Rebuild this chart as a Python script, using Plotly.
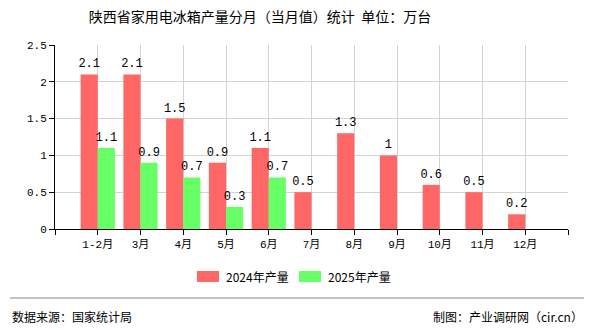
import plotly.graph_objects as go

categories = ["1-2月", "3月", "4月", "5月", "6月", "7月", "8月", "9月", "10月", "11月", "12月"]
values_2024 = [2.1, 2.1, 1.5, 0.9, 1.1, 0.5, 1.3, 1, 0.6, 0.5, 0.2]
values_2025 = [1.1, 0.9, 0.7, 0.3, 0.7, None, None, None, None, None, None]
series_names = ["2024年产量", "2025年产量"]
series_colors = ["#ff6666", "#66ff66"]
y_ticks = [0, 0.5, 1, 1.5, 2, 2.5]
y_ticklabels = ["0", "0.5", "1", "1.5", "2", "2.5"]

num_font = "Liberation Mono, Noto Sans CJK SC, monospace"
cjk_font = "Noto Sans CJK SC, sans-serif"

x_idx = list(range(len(categories)))

def fmt(v):
    if v is None:
        return ""
    return f"{v:g}"

fig = go.Figure()
for name, vals, col in zip(series_names, [values_2024, values_2025], series_colors):
    fig.add_trace(go.Bar(
        x=x_idx, y=vals, name=name,
        marker=dict(color=col, line=dict(width=0)),
        text=[fmt(v) for v in vals], textposition="outside",
        constraintext="none",
        textfont=dict(family=num_font, size=12, color="#000000"),
        cliponaxis=False, showlegend=False,
    ))

# plot area in px: x 55..568, y 45..229
PW, PH = 513, 184
def px_x(x):
    return (x - 55) / PW
def px_y(y):
    return (229 - y) / PH

fig.update_layout(
    width=590, height=330,
    margin=dict(l=55, r=22, t=45, b=101),
    paper_bgcolor="white", plot_bgcolor="white",
    barmode="group", bargap=0.2, bargroupgap=0,
    title=dict(text="陕西省家用电冰箱产量分月（当月值）统计  单位：万台",
               x=260/590, xanchor="center", y=1-17/330, yanchor="middle",
               font=dict(family=cjk_font, size=14, color="#000000")),
    font=dict(family=cjk_font, size=11, color="#000000"),
)

fig.update_xaxes(
    range=[-1, 11], tickmode="array", tickvals=x_idx, ticktext=categories,
    showline=True, linecolor="#000000", linewidth=1,
    ticks="outside", ticklen=5, tickcolor="#000000",
    showgrid=True, gridcolor="#d3d3d3", gridwidth=1,
    tickfont=dict(family=num_font, size=11, color="#000000"),
    minor=dict(tickmode="array", tickvals=[-1, 11], ticks="outside", ticklen=5,
               tickcolor="#000000", showgrid=False),
    zeroline=False,
)
fig.update_yaxes(
    range=[0, 2.5], tickmode="array", tickvals=y_ticks, ticktext=y_ticklabels,
    showline=True, linecolor="#000000", linewidth=1,
    ticks="outside", ticklen=5, tickcolor="#000000",
    showgrid=True, gridcolor="#d3d3d3", gridwidth=1,
    tickfont=dict(family=num_font, size=11, color="#000000"),
    zeroline=False,
)

# custom legend
legend_items = [(197, 224), (299, 326)]
for (sx, tx), name, col in zip(legend_items, series_names, series_colors):
    fig.add_shape(type="rect", xref="paper", yref="paper",
                  x0=px_x(sx), x1=px_x(sx + 22), y0=px_y(282), y1=px_y(271),
                  fillcolor=col, line=dict(width=0))
    fig.add_annotation(text=name, xref="paper", yref="paper",
                       x=px_x(tx), xanchor="left", y=px_y(276.5), yanchor="middle",
                       showarrow=False, font=dict(family=cjk_font, size=12, color="#000000"))

# footer line and texts
fig.add_shape(type="line", xref="paper", yref="paper",
              x0=px_x(10), x1=px_x(584), y0=px_y(298), y1=px_y(298),
              line=dict(color="#888888", width=1))
fig.add_annotation(text="数据来源：国家统计局", xref="paper", yref="paper",
                   x=px_x(10), xanchor="left", y=px_y(316), yanchor="middle",
                   showarrow=False, font=dict(family=cjk_font, size=12, color="#000000"))
fig.add_annotation(text="制图：产业调研网（cir.cn）", xref="paper", yref="paper",
                   x=px_x(585), xanchor="right", y=px_y(316), yanchor="middle",
                   showarrow=False, font=dict(family=cjk_font, size=12, color="#000000"))

fig.write_html("out.html")
